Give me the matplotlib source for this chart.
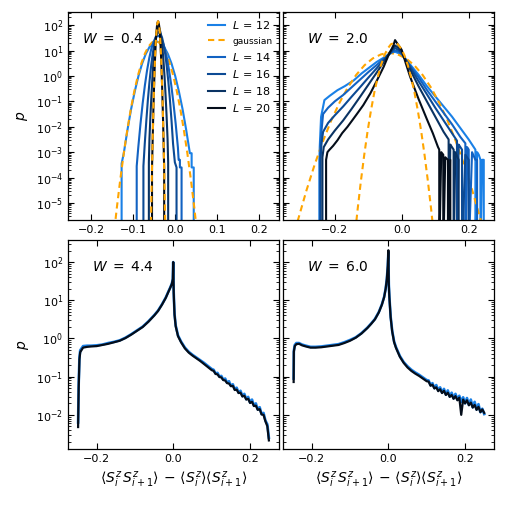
import numpy as np
import matplotlib
matplotlib.use("Agg")
import matplotlib.pyplot as plt
from matplotlib.ticker import LogLocator, NullFormatter, MultipleLocator

# ---------------- data (x values and log10 of probability density) ----------------
L_values = [12, 14, 16, 18, 20]
colors = ['#1a80e6', '#1262c2', '#0c4a94', '#0a3363', '#040d1a']
gauss_color = '#ffa500'

# W = 0.4 histograms
w04_x12 = [-0.127, -0.127, -0.1218, -0.113, -0.1043, -0.0955, -0.0868, -0.078, -0.0693, -0.0605, -0.0518,
           -0.043, -0.0343, -0.0255, -0.0168, -0.008, 0.0008, 0.0095, 0.0183, 0.027, 0.0358, 0.040, 0.040,
           0.045, 0.045]
w04_l12 = [-7, -3.45, -3.04, -2.12, -1.30, -0.60, 0.0, 0.49, 0.87, 1.14, 1.30, 1.36, 1.30, 1.14, 0.87, 0.49,
           0.0, -0.60, -1.30, -2.12, -3.04, -3.04, -3.6, -3.6, -7]
w04_x14 = [-0.091, -0.091, -0.0873, -0.082, -0.0768, -0.0715, -0.0663, -0.061, -0.0558, -0.0505, -0.0453,
           -0.040, -0.0348, -0.0295, -0.0243, -0.019, -0.0138, -0.0085, -0.0033, 0.002, 0.0073, 0.009,
           0.012, 0.012, 0.016, 0.016]
w04_l14 = [-7, -3.55, -2.82, -1.89, -1.08, -0.37, 0.22, 0.71, 1.09, 1.36, 1.53, 1.58, 1.53, 1.36, 1.09, 0.71,
           0.22, -0.37, -1.08, -1.89, -2.82, -3.3, -3.3, -3.6, -3.6, -7]
w04_x16 = [-0.075, -0.075, -0.0718, -0.068, -0.0643, -0.0605, -0.0568, -0.053, -0.0493, -0.0455, -0.0418,
           -0.038, -0.0343, -0.0305, -0.0268, -0.023, -0.0193, -0.0155, -0.0118, -0.008, -0.0043, 0.0, 0.004,
           0.004]
w04_l16 = [-7, -3.55, -2.67, -1.75, -0.93, -0.23, 0.37, 0.86, 1.24, 1.51, 1.67, 1.73, 1.67, 1.51, 1.24, 0.86,
           0.37, -0.23, -0.93, -1.75, -2.67, -3.4, -3.6, -7]
w04_x18 = [-0.062, -0.062, -0.0606, -0.0582, -0.0558, -0.0534, -0.051, -0.0486, -0.0462, -0.0438, -0.0414,
           -0.039, -0.0366, -0.0342, -0.0318, -0.0294, -0.027, -0.0246, -0.0222, -0.0198, -0.0174, -0.016,
           -0.016]
w04_l18 = [-7, -3.4, -2.48, -1.55, -0.74, -0.03, 0.56, 1.05, 1.43, 1.70, 1.87, 1.92, 1.87, 1.70, 1.43, 1.05,
           0.56, -0.03, -0.74, -1.55, -2.48, -3.4, -7]
w04_x20 = [-0.0545, -0.0545, -0.054, -0.0526, -0.0512, -0.0498, -0.0484, -0.047, -0.0456, -0.0442, -0.0428,
           -0.0414, -0.040, -0.0386, -0.0372, -0.0358, -0.0344, -0.033, -0.0316, -0.0302, -0.0288, -0.0274,
           -0.026, -0.0255, -0.0255]
w04_l20 = [-7, -3.6, -3.27, -2.24, -1.32, -0.51, 0.20, 0.80, 1.29, 1.67, 1.94, 2.10, 2.15, 2.10, 1.94, 1.67,
           1.29, 0.80, 0.20, -0.51, -1.32, -2.24, -3.27, -3.6, -7]
# W = 0.4 gaussian fits (L = 12 and L = 20)
w04_gx12 = [-0.1468, -0.1384, -0.1300, -0.1216, -0.1132, -0.1048, -0.0964, -0.0880, -0.0796, -0.0712,
            -0.0628, -0.0544, -0.0460, -0.0376, -0.0292, -0.0208, -0.0124, -0.0040, 0.0044, 0.0128, 0.0212,
            0.0296, 0.0380, 0.0464, 0.0548]
w04_g12 = [-6.44, -5.19, -4.05, -3.02, -2.10, -1.28, -0.58, 0.02, 0.51, 0.89, 1.16, 1.32, 1.38, 1.32, 1.16,
           0.89, 0.51, 0.02, -0.58, -1.28, -2.10, -3.02, -4.05, -5.19, -6.44]
w04_gx20 = [-0.0582, -0.0568, -0.0554, -0.0540, -0.0526, -0.0512, -0.0498, -0.0484, -0.0470, -0.0456,
            -0.0442, -0.0428, -0.0414, -0.0400, -0.0386, -0.0372, -0.0358, -0.0344, -0.0330, -0.0316,
            -0.0302, -0.0288, -0.0274, -0.0260, -0.0246, -0.0232, -0.0218]
w04_g20 = [-7.02, -5.66, -4.42, -3.27, -2.24, -1.32, -0.51, 0.20, 0.80, 1.29, 1.67, 1.94, 2.10, 2.15, 2.10,
           1.94, 1.67, 1.29, 0.80, 0.20, -0.51, -1.32, -2.24, -3.27, -4.42, -5.66, -7.02]

# W = 2.0 histograms
w20_x12 = [-0.246, -0.246, -0.245, -0.241, -0.231, -0.215, -0.192, -0.17, -0.143, -0.12, -0.094, -0.075,
           -0.05, -0.034, -0.02, -0.01, 0.0, 0.025, 0.05, 0.075, 0.1, 0.125, 0.15, 0.175, 0.2, 0.215, 0.22,
           0.22, 0.225, 0.23, 0.235, 0.235, 0.24, 0.245, 0.245]
w20_l12 = [-7, -3.3, -2.8, -1.61, -0.95, -0.78, -0.56, -0.40, -0.17, 0.10, 0.36, 0.55, 0.75, 0.90, 0.95,
           0.90, 0.82, 0.45, 0.05, -0.40, -0.80, -1.20, -1.60, -2.05, -2.50, -2.80, -2.9, -7, -3.0, -3.1,
           -3.3, -7, -3.3, -3.3, -7]
w20_x14 = [-0.2445, -0.2445, -0.243, -0.24, -0.235, -0.22, -0.2, -0.175, -0.15, -0.125, -0.1, -0.075, -0.05,
           -0.035, -0.02, -0.01, 0.0, 0.025, 0.05, 0.075, 0.1, 0.125, 0.15, 0.175, 0.19, 0.19, 0.195, 0.2,
           0.2, 0.21, 0.22, 0.225, 0.225]
w20_l14 = [-7, -3.3, -2.7, -2.2, -1.5, -1.25, -1.0, -0.75, -0.45, -0.15, 0.15, 0.43, 0.72, 0.88, 1.0, 0.96,
           0.86, 0.40, -0.05, -0.55, -1.0, -1.45, -1.9, -2.4, -2.65, -7, -2.8, -2.9, -7, -3.0, -3.3, -3.3, -7]
w20_x16 = [-0.2425, -0.2425, -0.24, -0.235, -0.22, -0.2, -0.175, -0.15, -0.125, -0.1, -0.075, -0.05,
           -0.035, -0.02, -0.01, 0.0, 0.025, 0.05, 0.075, 0.1, 0.125, 0.15, 0.165, 0.165, 0.17, 0.175, 0.18,
           0.18, 0.19, 0.2, 0.2]
w20_l16 = [-7, -3.3, -2.7, -2.2, -1.85, -1.55, -1.2, -0.82, -0.45, -0.07, 0.30, 0.68, 0.90, 1.10, 1.02,
           0.90, 0.35, -0.20, -0.72, -1.25, -1.75, -2.25, -2.55, -7, -2.7, -2.8, -2.9, -7, -3.1, -3.3, -7]
w20_x18 = [-0.237, -0.237, -0.233, -0.22, -0.2, -0.175, -0.15, -0.125, -0.1, -0.075, -0.05, -0.035, -0.02,
           -0.01, 0.0, 0.025, 0.05, 0.075, 0.1, 0.125, 0.14, 0.14, 0.145, 0.15, 0.155, 0.155, 0.16, 0.17,
           0.17]
w20_l18 = [-7, -3.2, -2.8, -2.5, -2.15, -1.75, -1.3, -0.83, -0.35, 0.13, 0.62, 0.95, 1.2, 1.10, 0.95, 0.25,
           -0.40, -1.0, -1.6, -2.2, -2.5, -7, -2.7, -2.8, -2.9, -7, -3.0, -3.3, -7]
w20_x20 = [-0.226, -0.226, -0.222, -0.217, -0.205, -0.192, -0.178, -0.162, -0.148, -0.133, -0.115, -0.094,
           -0.075, -0.054, -0.04, -0.025, -0.02, -0.012, -0.005, 0.0, 0.012, 0.025, 0.05, 0.075, 0.093,
           0.108, 0.112, 0.112, 0.118, 0.124, 0.124, 0.13, 0.138, 0.138, 0.145, 0.145]
w20_l20 = [-7, -3.3, -3.0, -2.92, -2.75, -2.53, -2.25, -2.0, -1.75, -1.48, -1.15, -0.69, -0.20, 0.36, 0.80,
           1.2, 1.41, 1.25, 1.12, 1.02, 0.5, -0.03, -0.9, -1.7, -2.26, -2.79, -2.9, -7, -3.0, -3.1, -7, -3.2,
           -3.3, -7, -3.3, -7]
# W = 2.0 gaussian fits (L = 12 and L = 20)
w20_gx12 = [-0.3346, -0.3098, -0.2850, -0.2602, -0.2354, -0.2106, -0.1858, -0.1610, -0.1362, -0.1114,
            -0.0866, -0.0618, -0.0370, -0.0122, 0.0126, 0.0374, 0.0622, 0.0870, 0.1118, 0.1366, 0.1614,
            0.1862, 0.2110, 0.2358, 0.2606]
w20_g12 = [-6.91, -5.66, -4.52, -3.49, -2.57, -1.75, -1.05, -0.45, 0.04, 0.42, 0.69, 0.85, 0.91, 0.85,
           0.69, 0.42, 0.04, -0.45, -1.05, -1.75, -2.57, -3.49, -4.52, -5.66, -6.91]
w20_gx20 = [-0.142, -0.132, -0.122, -0.112, -0.102, -0.092, -0.082, -0.072, -0.062, -0.052, -0.042, -0.032,
            -0.022, -0.012, -0.002, 0.008, 0.018, 0.028, 0.038, 0.048, 0.058, 0.068, 0.078, 0.088, 0.098]
w20_g20 = [-6.52, -5.27, -4.13, -3.10, -2.17, -1.36, -0.65, -0.06, 0.43, 0.81, 1.08, 1.25, 1.30, 1.25,
           1.08, 0.81, 0.43, -0.06, -0.65, -1.36, -2.17, -3.10, -4.13, -5.27, -6.52]

# W = 4.4 (L = 12 and L = 20 overlap almost perfectly)
w44_x = [-0.2485, -0.247, -0.245, -0.243, -0.2355, -0.225, -0.215, -0.2, -0.185, -0.17, -0.155, -0.14,
         -0.125, -0.11, -0.095, -0.08, -0.065, -0.05, -0.04, -0.03, -0.02, -0.013, -0.008, -0.004, -0.0015,
         -0.0005, 0.0008, 0.0015, 0.003, 0.006, 0.012, 0.02, 0.03, 0.04, 0.05, 0.06, 0.07, 0.08, 0.09, 0.1,
         0.105, 0.11, 0.115, 0.12, 0.125, 0.13, 0.135, 0.14, 0.145, 0.15, 0.155, 0.16, 0.165, 0.17, 0.175,
         0.18, 0.185, 0.19, 0.195, 0.2, 0.205, 0.21, 0.215, 0.22, 0.225, 0.23, 0.235, 0.24, 0.245, 0.249]
w44_l20 = [-2.32, -1.3, -0.55, -0.36, -0.24, -0.22, -0.21, -0.20, -0.17, -0.14, -0.10, -0.06, 0.01, 0.10,
           0.20, 0.30, 0.44, 0.60, 0.72, 0.88, 1.06, 1.22, 1.33, 1.43, 1.55, 2.0, 1.2, 1.0, 0.62, 0.32, 0.06,
           -0.10, -0.26, -0.37, -0.45, -0.52, -0.59, -0.67, -0.75, -0.83,
           -0.85, -0.93, -0.94, -1.01, -1.02, -1.09, -1.10, -1.17, -1.18, -1.25, -1.24, -1.35, -1.34, -1.43,
           -1.42, -1.52, -1.50, -1.60, -1.58, -1.69, -1.66, -1.77, -1.76, -1.87, -1.85, -1.99, -2.0, -2.17,
           -2.3, -2.67]
w44_l12 = [-2.2, -1.2, -0.5, -0.31, -0.20, -0.19, -0.19, -0.18, -0.16, -0.12, -0.09, -0.05, 0.02, 0.11,
           0.21, 0.31, 0.45, 0.61, 0.73, 0.89, 1.07, 1.23, 1.34, 1.44, 1.56, 2.0, 1.22, 1.02, 0.64, 0.34,
           0.08, -0.08, -0.24, -0.35, -0.43, -0.50, -0.57, -0.64, -0.72, -0.80,
           -0.82, -0.92, -0.90, -1.00, -0.98, -1.08, -1.05, -1.16, -1.12, -1.24, -1.20, -1.33, -1.29, -1.42,
           -1.37, -1.51, -1.45, -1.59, -1.53, -1.68, -1.60, -1.76, -1.70, -1.86, -1.80, -1.98, -1.95, -2.15,
           -2.25, -2.6]

# W = 6.0
w60_x = [-0.247, -0.2465, -0.244, -0.24, -0.233, -0.225, -0.215, -0.203, -0.19, -0.175, -0.16, -0.145,
         -0.13, -0.115, -0.1, -0.085, -0.07, -0.055, -0.045, -0.035, -0.025, -0.017, -0.011, -0.007, -0.004,
         -0.0015, 0.0, 0.0012, 0.0026, 0.006, 0.01, 0.015, 0.02, 0.03, 0.04, 0.05, 0.06, 0.07, 0.08, 0.09,
         0.1, 0.105, 0.11, 0.115, 0.12, 0.125, 0.13, 0.135, 0.14, 0.145, 0.15, 0.155, 0.16, 0.165, 0.17,
         0.175, 0.18, 0.185, 0.19, 0.195, 0.2, 0.205, 0.21, 0.215, 0.22, 0.225, 0.23, 0.235, 0.24, 0.245,
         0.25]
w60_l20 = [-1.14, -0.35, -0.20, -0.15, -0.14, -0.18, -0.21, -0.24, -0.24, -0.23, -0.21, -0.19, -0.17,
           -0.12, -0.06, 0.02, 0.13, 0.27, 0.38, 0.50, 0.68, 0.88, 1.08, 1.30, 1.55, 1.9, 2.31, 1.4, 1.08,
           0.55, 0.18, -0.10, -0.25, -0.48, -0.64, -0.76, -0.85, -0.92, -0.98, -1.05, -1.12,
           -1.13, -1.24, -1.21, -1.31, -1.28, -1.38, -1.33, -1.43, -1.37, -1.48, -1.42, -1.53, -1.48, -1.58,
           -1.51, -1.62, -1.55, -2.0, -1.60, -1.70, -1.62, -1.75, -1.68, -1.81, -1.74, -1.87, -1.79, -1.93,
           -1.86, -1.95]
w60_l12 = [-1.05, -0.32, -0.17, -0.12, -0.12, -0.16, -0.19, -0.22, -0.22, -0.21, -0.19, -0.17, -0.15,
           -0.10, -0.04, 0.03, 0.14, 0.28, 0.39, 0.51, 0.69, 0.89, 1.09, 1.31, 1.56, 1.9, 2.25, 1.42, 1.10,
           0.57, 0.20, -0.08, -0.23, -0.46, -0.62, -0.73, -0.82, -0.89, -0.95, -1.02, -1.09,
           -1.10, -1.22, -1.17, -1.30, -1.22, -1.36, -1.28, -1.42, -1.32, -1.47, -1.36, -1.52, -1.42, -1.57,
           -1.45, -1.60, -1.50, -1.66, -1.54, -1.70, -1.56, -1.74, -1.60, -1.80, -1.66, -1.86, -1.72, -1.93,
           -1.84, -1.98]

W_labels = [r'$W\;=\;0.4$', r'$W\;=\;2.0$', r'$W\;=\;4.4$', r'$W\;=\;6.0$']
xlabel = r'$\langle S_i^z\, S_{i+1}^z\rangle\, -\, \langle S_i^z\rangle\langle S_{i+1}^z\rangle$'

# ---------------- figure ----------------
fig = plt.figure(figsize=(5.07, 5.07), dpi=100)
ax1 = fig.add_axes([0.134, 0.566, 0.416, 0.410])
ax2 = fig.add_axes([0.558, 0.566, 0.416, 0.410])
ax3 = fig.add_axes([0.134, 0.114, 0.416, 0.412])
ax4 = fig.add_axes([0.558, 0.114, 0.416, 0.412])

lw = 1.5
dash = (0, (3, 2))
def P(v):
    return 10.0 ** np.asarray(v, dtype=float)

# W=0.4
w04 = [(w04_x12, w04_l12), (w04_x14, w04_l14), (w04_x16, w04_l16), (w04_x18, w04_l18), (w04_x20, w04_l20)]
ax1.plot(w04[0][0], P(w04[0][1]), color=colors[0], lw=lw, label=f'$L\\,=\\,{L_values[0]}$')
ax1.plot(w04_gx12, P(w04_g12), color=gauss_color, lw=lw, ls=dash, label='gaussian')
for i in range(1, 5):
    ax1.plot(w04[i][0], P(w04[i][1]), color=colors[i], lw=lw, label=f'$L\\,=\\,{L_values[i]}$')
ax1.plot(w04_gx20, P(w04_g20), color=gauss_color, lw=lw, ls=dash)

# W=2.0
w20 = [(w20_x12, w20_l12), (w20_x14, w20_l14), (w20_x16, w20_l16), (w20_x18, w20_l18), (w20_x20, w20_l20)]
ax2.plot(w20[0][0], P(w20[0][1]), color=colors[0], lw=lw)
ax2.plot(w20_gx12, P(w20_g12), color=gauss_color, lw=lw, ls=dash)
for i in range(1, 5):
    ax2.plot(w20[i][0], P(w20[i][1]), color=colors[i], lw=lw)
ax2.plot(w20_gx20, P(w20_g20), color=gauss_color, lw=lw, ls=dash)

# W=4.4, W=6.0
ax3.plot(w44_x, P(w44_l12), color=colors[0], lw=1.9)
ax3.plot(w44_x, P(w44_l20), color=colors[4], lw=1.6)
ax4.plot(w60_x, P(w60_l12), color=colors[0], lw=1.9)
ax4.plot(w60_x, P(w60_l20), color=colors[4], lw=1.6)

for ax in (ax1, ax2, ax3, ax4):
    ax.set_yscale('log')
    ax.tick_params(which='both', direction='in', top=True, right=True, labelsize=8)
    ax.tick_params(which='major', length=4, width=0.8)
    ax.tick_params(which='minor', length=2.2, width=0.6)
    ax.yaxis.set_major_locator(LogLocator(base=10, numticks=30))
    ax.yaxis.set_minor_locator(LogLocator(base=10, subs=np.arange(2, 10), numticks=30))
    ax.yaxis.set_minor_formatter(NullFormatter())
    for s in ax.spines.values():
        s.set_linewidth(0.9)

ax1.set_xlim(-0.255, 0.248)
ax2.set_xlim(-0.355, 0.275)
for ax in (ax1, ax2):
    ax.set_ylim(10 ** -5.67, 10 ** 2.51)
for ax in (ax3, ax4):
    ax.set_xlim(-0.275, 0.275)
    ax.set_ylim(10 ** -2.9, 10 ** 2.57)

ax1.xaxis.set_major_locator(MultipleLocator(0.1))
for ax in (ax2, ax3, ax4):
    ax.xaxis.set_major_locator(MultipleLocator(0.2))

ax2.tick_params(labelleft=False)
ax4.tick_params(labelleft=False)

ax1.set_ylabel('$p$', fontsize=10)
ax3.set_ylabel('$p$', fontsize=10)
ax3.set_xlabel(xlabel, fontsize=10)
ax4.set_xlabel(xlabel, fontsize=10)

ax1.text(0.065, 0.87, W_labels[0], transform=ax1.transAxes, fontsize=10, va='center')
ax2.text(0.112, 0.873, W_labels[1], transform=ax2.transAxes, fontsize=10, va='center')
ax3.text(0.112, 0.872, W_labels[2], transform=ax3.transAxes, fontsize=10, va='center')
ax4.text(0.112, 0.872, W_labels[3], transform=ax4.transAxes, fontsize=10, va='center')

leg = ax1.legend(loc='upper right', frameon=False, fontsize=8, handlelength=1.6, handletextpad=0.6,
                 labelspacing=0.45, borderaxespad=0.2)
leg.get_texts()[1].set_fontsize(6.5)

fig.savefig('out.png', dpi=100)
